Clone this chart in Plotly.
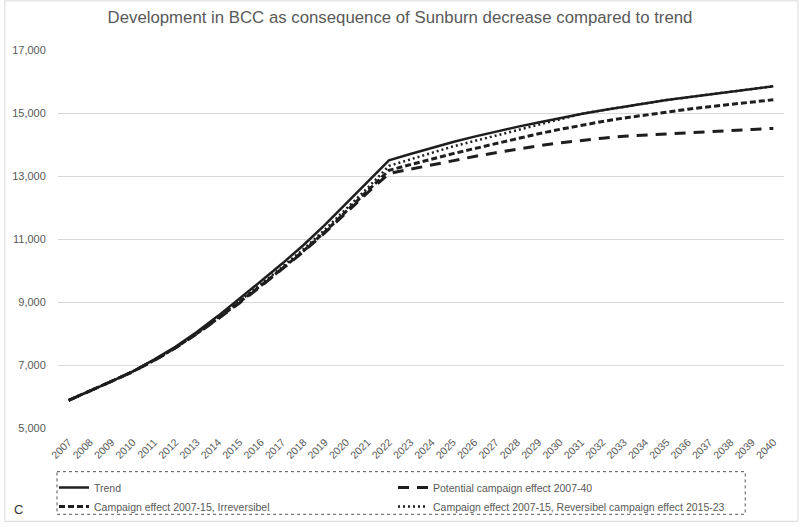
import plotly.graph_objects as go

years = [str(y) for y in range(2007, 2041)]

trend = [5880, 6170, 6480, 6800, 7170, 7580, 8050, 8560, 9100, 9660, 10220, 10810,
         11450, 12130, 12800, 13500, 13700, 13900, 14080, 14250, 14410, 14560, 14700,
         14840, 14970, 15090, 15200, 15310, 15410, 15500, 15590, 15670, 15750, 15850]

potential = [5880, 6170, 6480, 6790, 7140, 7540, 7990, 8470, 8970, 9500, 10040, 10600,
             11200, 11840, 12470, 13080, 13220, 13360, 13490, 13620, 13740, 13860, 13960,
             14050, 14130, 14200, 14260, 14300, 14340, 14380, 14420, 14450, 14480, 14510]

irreversible = [5880, 6170, 6480, 6790, 7150, 7550, 8000, 8480, 8990, 9520, 10060, 10620,
                11230, 11880, 12520, 13180, 13360, 13540, 13710, 13870, 14030, 14190, 14340,
                14480, 14610, 14730, 14840, 14940, 15030, 15120, 15200, 15280, 15350, 15420]

reversible = [5880, 6170, 6480, 6790, 7150, 7550, 8010, 8500, 9020, 9560, 10110, 10680,
              11300, 11960, 12620, 13320, 13520, 13740, 13940, 14110, 14280, 14460, 14640,
              14810, 14970, 15090, 15200, 15310, 15410, 15500, 15590, 15670, 15750, 15850]

y_ticks = [5000, 7000, 9000, 11000, 13000, 15000, 17000]

names = ["Trend", "Potential campaign effect 2007-40",
         "Campaign effect 2007-15, Irreversibel",
         "Campaign effect 2007-15, Reversibel campaign effect 2015-23"]

FONT = "Liberation Sans"
GRAY = "#595959"
INK = "#1e1e1e"

fig = go.Figure()
fig.add_trace(go.Scatter(x=years, y=trend, name=names[0], mode="lines",
                         line=dict(color=INK, width=2.5)))
fig.add_trace(go.Scatter(x=years, y=potential, name=names[1], mode="lines",
                         line=dict(color=INK, width=3, dash="11px,8px")))
fig.add_trace(go.Scatter(x=years, y=irreversible, name=names[2], mode="lines",
                         line=dict(color=INK, width=3, dash="6px,3px")))
fig.add_trace(go.Scatter(x=years, y=reversible, name=names[3], mode="lines",
                         line=dict(color=INK, width=2.5, dash="2px,3px")))

W, H = 800, 527

def px(x):
    return (x - 54) / 730.0

def py(y):
    return (431 - y) / 381.0

fig.update_layout(
    width=W, height=H,
    margin=dict(l=54, r=16, t=50, b=96),
    paper_bgcolor="white", plot_bgcolor="white",
    font=dict(family=FONT, color=GRAY),
    title=dict(text="Development in BCC as consequence of Sunburn decrease compared to trend",
               x=0.5, xanchor="center", y=1 - 17 / H, yanchor="middle",
               font=dict(family=FONT, size=16.8, color=GRAY)),
    xaxis=dict(type="category", tickangle=-45, showgrid=False,
               tickfont=dict(family=FONT, size=10.5, color=GRAY),
               showline=False, ticks="outside", ticklen=3, tickcolor="rgba(0,0,0,0)",
               range=[-0.5, 33.5]),
    yaxis=dict(range=[5000, 17000], tickvals=y_ticks, tickformat=",",
               gridcolor="#d9d9d9", gridwidth=1, zeroline=False,
               tickfont=dict(family=FONT, size=11, color=GRAY),
               ticks="outside", ticklen=9, tickcolor="rgba(0,0,0,0)"),
    showlegend=True,
    legend=dict(orientation="h", xref="container", yref="container",
                x=54 / W, y=1 - 473 / H, xanchor="left", yanchor="top",
                entrywidth=294, entrywidthmode="pixels", traceorder="normal",
                font=dict(family=FONT, size=10.5, color=GRAY),
                bgcolor="rgba(0,0,0,0)", itemwidth=30),
    shapes=[
        dict(type="rect", xref="paper", yref="paper",
             x0=px(53), x1=px(745), y0=py(475), y1=py(518),
             line=dict(color="#555555", width=1, dash="dot")),
        dict(type="rect", xref="paper", yref="paper",
             x0=px(0.5), x1=px(798), y0=py(0.5), y1=py(525),
             line=dict(color="#d9d9d9", width=1)),
    ],
    annotations=[
        dict(text="C", xref="paper", yref="paper", x=px(8), y=py(513),
             xanchor="left", yanchor="middle", showarrow=False,
             font=dict(family=FONT, size=13, color="#333333")),
    ],
)

fig.write_html("out.html", config={"displayModeBar": False},
               post_script="document.body.style.margin='0px';")
